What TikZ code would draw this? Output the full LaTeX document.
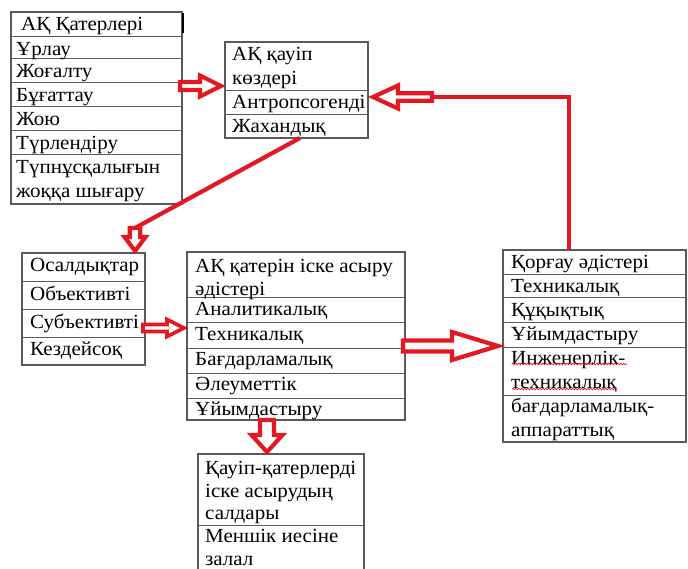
\documentclass[tikz,border=0pt]{standalone}
\usepackage{fontspec}
\setmainfont{Liberation Serif}[FakeStretch=1.05]
\usetikzlibrary{calc,decorations.pathmorphing}
\definecolor{ared}{RGB}{226,24,34}
\definecolor{bline}{RGB}{90,90,90}
\newcommand\rblk[6][]{\draw[blk,#1] let \p1=(#2), \p2=(#3) in
 (\x1,{\y1+#4}) -- ({\x2-#6},{\y1+#4}) -- ({\x2-#6},{\y1+#5}) -- (\x2,\y1) -- ({\x2-#6},{\y1-#5}) -- ({\x2-#6},{\y1-#4}) -- (\x1,{\y1-#4}) -- cycle;}
\newcommand\lblk[6][]{\draw[blk,#1] let \p1=(#2), \p2=(#3) in
 (\x1,{\y1+#4}) -- ({\x2+#6},{\y1+#4}) -- ({\x2+#6},{\y1+#5}) -- (\x2,\y1) -- ({\x2+#6},{\y1-#5}) -- ({\x2+#6},{\y1-#4}) -- (\x1,{\y1-#4}) -- cycle;}
\newcommand\dblk[6][]{\draw[blk,#1] let \p1=(#2), \p2=(#3) in
 ({\x1-#4},\y1) -- ({\x1-#4},{\y2+#6}) -- ({\x1-#5},{\y2+#6}) -- (\x1,\y2) -- ({\x1+#5},{\y2+#6}) -- ({\x1+#4},{\y2+#6}) -- ({\x1+#4},\y1) -- cycle;}
\begin{document}
\begin{tikzpicture}[x=1pt,y=-1pt,
  box/.style={draw=bline,line width=1.1pt,anchor=north west,inner sep=0pt,outer sep=0pt},
  sep/.style={draw=bline,line width=1pt},
  txt/.style={anchor=north west,inner sep=0pt,align=left,font=\fontsize{20}{24}\selectfont},
  blk/.style={draw=ared,line width=4.2pt,fill=white,line join=miter},
  rline/.style={draw=ared,line width=4.2pt}]
\useasboundingbox (0,0) rectangle (688,569);
\clip (0,0) rectangle (688,569);
% box 1
\node[box,minimum width=171pt,minimum height=192pt] (b1) at (11,12) {};
\foreach \yy in {37,59,83,107,131,155} \draw[sep] (b1.west |- 0,\yy) -- (b1.east |- 0,\yy);
\draw[black,line width=2pt] (183,13) -- (183,33);
\node[txt] (t11) at (21,13.5) {\strut АҚ Қатерлері};
\node[txt] (t12) at (16,38.5) {\strut Ұрлау};
\node[txt] (t13) at (16,60.5) {\strut Жоғалту};
\node[txt] (t14) at (16,84.5) {\strut Бұғаттау};
\node[txt] (t15) at (16,108.5) {\strut Жою};
\node[txt] (t16) at (16,132.5) {\strut Түрлендіру};
\node[txt] (t17) at (16,156.5) {\strut Түпнұсқалығын\\жоққа шығару};
% box 2
\node[box,minimum width=143pt,minimum height=96pt] (b2) at (225,42) {};
\foreach \yy in {91,115} \draw[sep] (b2.west |- 0,\yy) -- (b2.east |- 0,\yy);
\node[txt] (t21) at (232,43.5) {\strut АҚ қауіп\\көздері};
\node[txt] (t22) at (232,91.5) {\strut Антропсогенді};
\node[txt] (t23) at (232,115.5) {\strut Жахандық};
% box 3
\node[box,minimum width=183pt,minimum height=192pt] (b3) at (503,250) {};
\foreach \yy in {275,298,323,347,395} \draw[sep] (b3.west |- 0,\yy) -- (b3.east |- 0,\yy);
\node[txt] (t31) at (511,251.5) {\strut Қорғау әдістері};
\node[txt] (t32) at (511,275.5) {\strut Техникалық};
\node[txt] (t33) at (511,299.5) {\strut Құқықтық};
\node[txt] (t34) at (511,323.5) {\strut Ұйымдастыру};
\node[txt] (t35) at (511,347.5) {\strut Инженерлік-\\техникалық};
\node[txt] (t36) at (511,395.5) {\strut бағдарламалық-\\аппараттық};
\draw[ared,line width=0.7pt,decorate,decoration={snake,amplitude=0.8pt,segment length=3pt}] (512,364) -- (627,364);
\draw[ared,line width=0.7pt,decorate,decoration={snake,amplitude=0.8pt,segment length=3pt}] (512,389) -- (617,389);
% box 4
\node[box,minimum width=123pt,minimum height=112pt] (b4) at (22,253) {};
\foreach \yy in {282,310,337} \draw[sep] (b4.west |- 0,\yy) -- (b4.east |- 0,\yy);
\node[txt] (t41) at (30,255) {\strut Осалдықтар};
\node[txt] (t42) at (30,283.5) {\strut Объективті};
\node[txt] (t43) at (30,311) {\strut Субъективті};
\node[txt] (t44) at (30,338.5) {\strut Кездейсоқ};
% box 5
\node[box,minimum width=218pt,minimum height=168pt] (b5) at (187,252) {};
\foreach \yy in {298,323,348,373,398} \draw[sep] (b5.west |- 0,\yy) -- (b5.east |- 0,\yy);
\node[txt] (t51) at (195,255) {\strut АҚ қатерін іске асыру\\әдістері};
\node[txt] (t52) at (195,298.5) {\strut Аналитикалық};
\node[txt] (t53) at (195,323.5) {\strut Техникалық};
\node[txt] (t54) at (195,348.5) {\strut Бағдарламалық};
\node[txt] (t55) at (195,373.5) {\strut Әлеуметтік};
\node[txt] (t56) at (195,398.5) {\strut Ұйымдастыру};
% box 6
\node[box,minimum width=166pt,minimum height=140pt] (b6) at (198,454) {};
\draw[sep] (b6.west |- 0,525) -- (b6.east |- 0,525);
\node[txt,font=\fontsize{20}{22.5}\selectfont] (t61) at (205,459) {\strut Қауіп-қатерлерді\\іске асырудың\\салдары};
\node[txt,font=\fontsize{20}{22.5}\selectfont] (t62) at (205,527) {\strut Меншік иесіне\\залал};
% connectors
\coordinate (a1s) at ($(b1.east |- 0,86)+(-2,0)$);
\coordinate (a1e) at ($(b2.west |- 0,86)+(-4,0)$);
\rblk{a1s}{a1e}{4pt}{10.5pt}{21pt}
\coordinate (c2) at ($(b3.north west)+(66,0)$);
\coordinate (a2s) at (432,97);
\coordinate (a2e) at ($(b2.east |- 0,97)+(5,0)$);
\draw[rline] (c2) -- (c2 |- a2s) -- (a2s);
\lblk{a2s}{a2e}{3.75pt}{11.5pt}{25pt}
\coordinate (a3s) at ($(b5.east |- 0,346)+(-2,0)$);
\coordinate (a3e) at ($(b3.west |- 0,346)+(-5,0)$);
\rblk{a3s}{a3e}{5.5pt}{14pt}{46pt}
\coordinate (c4) at ($(b2.south west)+(75,0)$);
\coordinate (a4s) at (135,228);
\coordinate (a4e) at ($(b4.north west)+(113,-2)$);
\draw[rline] (c4) -- (a4s);
\dblk{a4s}{a4e}{5.25pt}{10.5pt}{14pt}
\coordinate (a5s) at ($(b4.east |- 0,328)+(-2,0)$);
\coordinate (a5e) at ($(b5.west |- 0,328)+(-3,0)$);
\rblk[line width=3.6pt]{a5s}{a5e}{3.5pt}{8.5pt}{17pt}
\coordinate (a6s) at ($(b5.south west)+(80,0)$);
\coordinate (a6e) at ($(b6.north west)+(69,-2)$);
\dblk{a6s}{a6e}{7pt}{15.5pt}{17pt}
\end{tikzpicture}
\end{document}
